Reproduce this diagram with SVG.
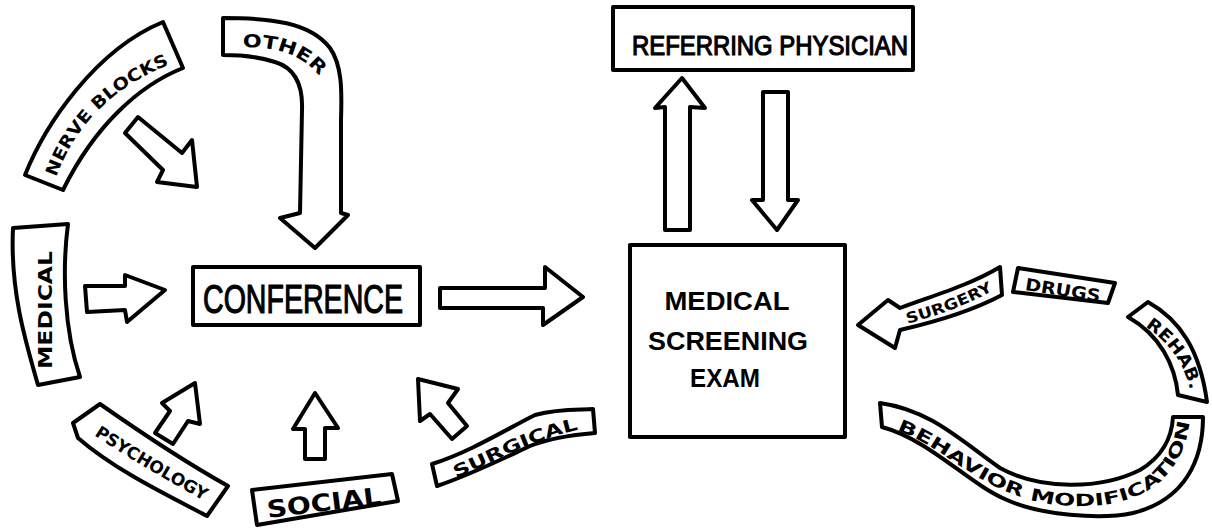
<svg xmlns="http://www.w3.org/2000/svg" width="1212" height="531" viewBox="0 0 1212 531">
<style>
.o{fill:#fff;stroke:#000;stroke-width:4;stroke-linejoin:round;stroke-linecap:round}
.t{font-family:"DejaVu Sans","Liberation Sans",sans-serif;font-weight:bold;fill:#000}
.m{font-family:"Liberation Sans","DejaVu Sans",sans-serif;font-weight:bold;fill:#000}
.n{font-weight:normal;stroke:#000;stroke-width:1.2}
</style>
<defs>
<path id="pNerve" d="M 52,190 Q 80,95 182,60"/>
<path id="pOther" d="M 238,48 C 275,45 305,55 322,80"/>
<path id="pPsy" d="M 86,430 Q 150,472 212,505"/>
<path id="pSurg" d="M 445,482 C 490,466 525,440 590,427"/>
<path id="pSurgery" d="M 902,325 Q 955,312 998,288"/>
<path id="pRehab" d="M 1138,322 C 1165,338 1185,360 1192,398"/>
<path id="pBeh" d="M 890,428 C 945,445 975,490 1045,503 C 1115,515 1185,495 1190,415"/>
</defs>
<rect width="1212" height="531" fill="#fff"/>
<g id="connectors">
<polygon class="o" points="125,133 138,117 182,153 192,140 197,187 157,182 163,170"/>
<polygon class="o" points="85,286 125,286 125,275 165,290 127,322 125,310 87,312"/>
<polygon class="o" points="440,288 545,288 545,267 583,297 543,325 543,308 440,308"/>
<polygon class="o" points="665,230 665,107 655,108 682,78 705,108 690,107 690,230"/>
<polygon class="o" points="763,92 788,92 788,200 798,200 777,230 752,200 763,200"/>
<polygon class="o" points="195,383 200,424 188,421 173,444 155,433 170,411 162,403"/>
<polygon class="o" points="315,393 338,428 325,428 325,459 305,459 305,429 293,429"/>
<polygon class="o" points="418,379 458,389 448,403 467,426 452,439 430,414 420,421"/>
</g>
<g id="nerve-blocks">
<path class="o" d="M 25,175 C 45,125 95,50 163,22 L 183,68 C 140,85 95,125 63,190 Z"/>
<text class="t" font-size="17"><textPath href="#pNerve" startOffset="50%" text-anchor="middle" textLength="165" lengthAdjust="spacingAndGlyphs">NERVE BLOCKS</textPath></text>
</g>
<g id="other">
<path class="o" d="M 223,18 C 270,18 310,22 330,48 C 342,65 342,90 341,120 L 341,213 L 348,215 L 315,248 L 280,218 L 300,213 L 302,110 C 303,85 295,68 275,62 C 260,57 240,55 223,55 Z"/>
<text class="t" font-size="18"><textPath href="#pOther" startOffset="50%" text-anchor="middle" textLength="85" lengthAdjust="spacingAndGlyphs">OTHER</textPath></text>
</g>
<g id="medical">
<path class="o" d="M 13,228 L 68,224 C 62,270 64,330 80,377 L 38,385 C 25,340 10,290 13,228 Z"/>
<text class="t" font-size="20" x="52" y="310" text-anchor="middle" textLength="118" lengthAdjust="spacingAndGlyphs" transform="rotate(-90 52 310)">MEDICAL</text>
</g>
<g id="conference">
<rect class="o" x="193" y="267" width="227" height="58"/>
<text class="m n" font-size="40" x="303" y="313" text-anchor="middle" textLength="200" lengthAdjust="spacingAndGlyphs">CONFERENCE</text>
</g>
<g id="referring-physician">
<rect class="o" x="613" y="7" width="300" height="63"/>
<text class="m n" font-size="27" x="632" y="55" textLength="276" lengthAdjust="spacingAndGlyphs">REFERRING PHYSICIAN</text>
</g>
<g id="medical-screening-exam">
<rect class="o" x="630" y="245" width="215" height="192"/>
<text class="m" font-size="26" x="727" y="310" text-anchor="middle" textLength="125" lengthAdjust="spacingAndGlyphs">MEDICAL</text>
<text class="m" font-size="26" x="728" y="350" text-anchor="middle" textLength="160" lengthAdjust="spacingAndGlyphs">SCREENING</text>
<text class="m" font-size="26" x="725" y="387" text-anchor="middle" textLength="70" lengthAdjust="spacingAndGlyphs">EXAM</text>
</g>
<g id="psychology">
<path class="o" d="M 100,404 C 140,432 185,462 228,486 L 207,516 C 165,494 115,470 78,438 L 73,423 Z"/>
<text class="t" font-size="17"><textPath href="#pPsy" startOffset="50%" text-anchor="middle" textLength="128" lengthAdjust="spacingAndGlyphs">PSYCHOLOGY</textPath></text>
</g>
<g id="social">
<polygon class="o" points="252,490 392,474 398,501 257,525"/>
<text class="t" font-size="24" x="325" y="511" text-anchor="middle" textLength="115" lengthAdjust="spacingAndGlyphs" transform="rotate(-7 325 511)">SOCIAL</text>
</g>
<g id="surgical">
<path class="o" d="M 432,464 C 470,452 505,430 535,415 C 560,408 580,410 593,409 L 595,433 C 570,435 550,438 530,446 C 500,460 470,475 437,486 Z"/>
<text class="t" font-size="17"><textPath href="#pSurg" startOffset="50%" text-anchor="middle" textLength="132" lengthAdjust="spacingAndGlyphs">SURGICAL</textPath></text>
</g>
<g id="surgery">
<path class="o" d="M 858,325 L 888,300 L 900,308 C 935,295 970,285 1000,267 L 1002,295 C 970,312 935,322 900,330 L 895,348 Z"/>
<text class="t" font-size="15"><textPath href="#pSurgery" startOffset="50%" text-anchor="middle" textLength="92" lengthAdjust="spacingAndGlyphs">SURGERY</textPath></text>
</g>
<g id="drugs">
<polygon class="o" points="1018,268 1115,283 1108,303 1013,292"/>
<text class="t" font-size="17" x="1062" y="296" text-anchor="middle" textLength="76" lengthAdjust="spacingAndGlyphs" transform="rotate(9 1062 296)">DRUGS</text>
</g>
<g id="rehab">
<path class="o" d="M 1128,317 L 1148,302 C 1180,320 1200,350 1207,402 L 1178,395 C 1175,365 1160,335 1128,317 Z"/>
<text class="t" font-size="17"><textPath href="#pRehab" startOffset="50%" text-anchor="middle" textLength="80" lengthAdjust="spacingAndGlyphs">REHAB.</textPath></text>
</g>
<g id="behavior-modification">
<path class="o" d="M 880,403 C 930,410 960,440 1000,468 C 1040,490 1100,490 1140,470 C 1165,455 1172,435 1173,417 L 1203,417 C 1203,460 1185,500 1133,513 C 1100,520 1040,515 1007,500 C 970,485 930,440 882,427 Z"/>
<text class="t" font-size="17"><textPath href="#pBeh" startOffset="50%" text-anchor="middle" textLength="355" lengthAdjust="spacingAndGlyphs">BEHAVIOR MODIFICATION</textPath></text>
</g>
</svg>
